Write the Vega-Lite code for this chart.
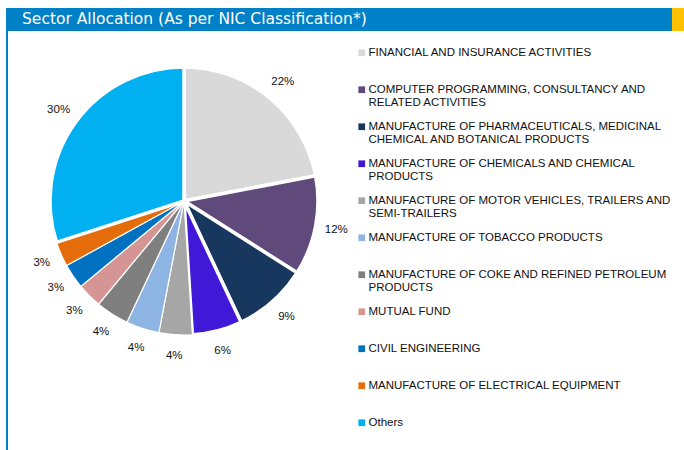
{
  "$schema": "https://vega.github.io/schema/vega-lite/v6.json",
  "padding": {"left": 4, "top": 8, "right": 0, "bottom": 0},
  "background": "white",
  "config": {"view": {"stroke": null}},
  "spacing": 0,
  "vconcat": [
    {
      "spacing": 0,
      "hconcat": [
        {
          "width": 666,
          "height": 23,
          "view": {"fill": "#0080C6", "stroke": null},
          "data": {"values": [{"t": "Sector Allocation (As per NIC Classification*)"}]},
          "mark": {"type": "text", "align": "left", "baseline": "middle", "dx": 16, "dy": -1, "color": "white", "font": "DejaVu Sans", "fontSize": 15.5},
          "encoding": {
            "x": {"datum": 0, "type": "quantitative", "scale": {"domain": [0, 1]}, "axis": null},
            "text": {"field": "t", "type": "nominal"}
          }
        },
        {
          "width": 14,
          "height": 23,
          "view": {"fill": "#FFC000", "stroke": null},
          "data": {"values": [{}]},
          "mark": {"type": "point", "opacity": 0}
        }
      ]
    },
    {
      "spacing": 0,
      "hconcat": [
        {
          "width": 2,
          "height": 419,
          "view": {"fill": "#0080C6", "stroke": null},
          "data": {"values": [{}]},
          "mark": {"type": "point", "opacity": 0}
        },
        {
          "width": 348,
          "height": 340,
          "data": {
            "values": [
              {"sector": "FINANCIAL AND INSURANCE ACTIVITIES", "value": 0.22},
              {"sector": "COMPUTER PROGRAMMING, CONSULTANCY AND RELATED ACTIVITIES", "value": 0.12},
              {"sector": "MANUFACTURE OF PHARMACEUTICALS, MEDICINAL CHEMICAL AND BOTANICAL PRODUCTS", "value": 0.09},
              {"sector": "MANUFACTURE OF CHEMICALS AND CHEMICAL PRODUCTS", "value": 0.06},
              {"sector": "MANUFACTURE OF MOTOR VEHICLES, TRAILERS AND SEMI-TRAILERS", "value": 0.04},
              {"sector": "MANUFACTURE OF TOBACCO PRODUCTS", "value": 0.04},
              {"sector": "MANUFACTURE OF COKE AND REFINED PETROLEUM PRODUCTS", "value": 0.04},
              {"sector": "MUTUAL FUND", "value": 0.03},
              {"sector": "CIVIL ENGINEERING", "value": 0.03},
              {"sector": "MANUFACTURE OF ELECTRICAL EQUIPMENT", "value": 0.03},
              {"sector": "Others", "value": 0.30}
            ]
          },
          "transform": [
            {"calculate": "indexof(['FINANCIAL AND INSURANCE ACTIVITIES','COMPUTER PROGRAMMING, CONSULTANCY AND RELATED ACTIVITIES','MANUFACTURE OF PHARMACEUTICALS, MEDICINAL CHEMICAL AND BOTANICAL PRODUCTS','MANUFACTURE OF CHEMICALS AND CHEMICAL PRODUCTS','MANUFACTURE OF MOTOR VEHICLES, TRAILERS AND SEMI-TRAILERS','MANUFACTURE OF TOBACCO PRODUCTS','MANUFACTURE OF COKE AND REFINED PETROLEUM PRODUCTS','MUTUAL FUND','CIVIL ENGINEERING','MANUFACTURE OF ELECTRICAL EQUIPMENT','Others'], datum.sector)", "as": "rank"}
          ],
          "encoding": {
            "theta": {"field": "value", "type": "quantitative", "stack": true},
            "order": {"field": "rank", "type": "quantitative", "sort": "ascending"},
            "color": {
              "field": "sector",
              "type": "nominal",
              "sort": [
                "FINANCIAL AND INSURANCE ACTIVITIES",
                "COMPUTER PROGRAMMING, CONSULTANCY AND RELATED ACTIVITIES",
                "MANUFACTURE OF PHARMACEUTICALS, MEDICINAL CHEMICAL AND BOTANICAL PRODUCTS",
                "MANUFACTURE OF CHEMICALS AND CHEMICAL PRODUCTS",
                "MANUFACTURE OF MOTOR VEHICLES, TRAILERS AND SEMI-TRAILERS",
                "MANUFACTURE OF TOBACCO PRODUCTS",
                "MANUFACTURE OF COKE AND REFINED PETROLEUM PRODUCTS",
                "MUTUAL FUND",
                "CIVIL ENGINEERING",
                "MANUFACTURE OF ELECTRICAL EQUIPMENT",
                "Others"
              ],
              "scale": {
                "domain": [
                  "FINANCIAL AND INSURANCE ACTIVITIES",
                  "COMPUTER PROGRAMMING, CONSULTANCY AND RELATED ACTIVITIES",
                  "MANUFACTURE OF PHARMACEUTICALS, MEDICINAL CHEMICAL AND BOTANICAL PRODUCTS",
                  "MANUFACTURE OF CHEMICALS AND CHEMICAL PRODUCTS",
                  "MANUFACTURE OF MOTOR VEHICLES, TRAILERS AND SEMI-TRAILERS",
                  "MANUFACTURE OF TOBACCO PRODUCTS",
                  "MANUFACTURE OF COKE AND REFINED PETROLEUM PRODUCTS",
                  "MUTUAL FUND",
                  "CIVIL ENGINEERING",
                  "MANUFACTURE OF ELECTRICAL EQUIPMENT",
                  "Others"
                ],
                "range": ["#D9D9D9", "#604A7B", "#17375E", "#3F18D8", "#A6A6A6", "#8EB4E3", "#7F7F7F", "#D59594", "#0070C0", "#E46C0A", "#00B0F0"]
              },
              "legend": {
                "orient": "none",
                "legendX": 350,
                "legendY": 39,
                "title": null,
                "symbolType": "square",
                "symbolSize": 45,
                "symbolStrokeWidth": 0,
                "symbolOpacity": 1,
                "labelFont": "Liberation Sans",
                "labelFontSize": 11.5,
                "labelColor": "#111111",
                "labelLineHeight": 13,
                "labelLimit": 400,
                "labelOffset": 1,
                "rowPadding": 11,
                "labelExpr": "datum.label == 'COMPUTER PROGRAMMING, CONSULTANCY AND RELATED ACTIVITIES' ? ['COMPUTER PROGRAMMING, CONSULTANCY AND', 'RELATED ACTIVITIES'] : datum.label == 'MANUFACTURE OF PHARMACEUTICALS, MEDICINAL CHEMICAL AND BOTANICAL PRODUCTS' ? ['MANUFACTURE OF PHARMACEUTICALS, MEDICINAL', 'CHEMICAL AND BOTANICAL PRODUCTS'] : datum.label == 'MANUFACTURE OF CHEMICALS AND CHEMICAL PRODUCTS' ? ['MANUFACTURE OF CHEMICALS AND CHEMICAL', 'PRODUCTS'] : datum.label == 'MANUFACTURE OF MOTOR VEHICLES, TRAILERS AND SEMI-TRAILERS' ? ['MANUFACTURE OF MOTOR VEHICLES, TRAILERS AND', 'SEMI-TRAILERS'] : datum.label == 'MANUFACTURE OF COKE AND REFINED PETROLEUM PRODUCTS' ? ['MANUFACTURE OF COKE AND REFINED PETROLEUM', 'PRODUCTS'] : [datum.label, '']"
              }
            }
          },
          "layer": [
            {
              "mark": {"type": "arc", "outerRadius": 134, "stroke": "white"},
              "encoding": {
                "strokeWidth": {"condition": {"test": "datum.value >= 0.06", "value": 3.5}, "value": 1.2}
              }
            },
            {
              "mark": {"type": "text", "radius": 155, "font": "Liberation Sans", "fontSize": 11.5},
              "encoding": {
                "text": {"field": "value", "type": "quantitative", "format": ".0%"},
                "fill": {"value": "#111111"}
              }
            }
          ]
        }
      ]
    }
  ]
}
